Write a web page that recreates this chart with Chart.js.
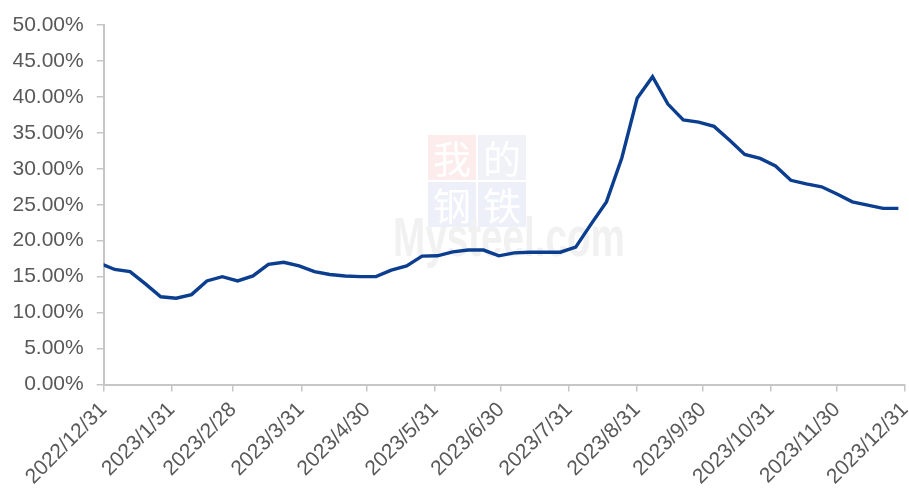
<!DOCTYPE html>
<html>
<head>
<meta charset="utf-8">
<script src="https://cdn.jsdelivr.net/npm/chart.js@4.4.1/dist/chart.umd.min.js"></script>
<style>
  html, body { margin: 0; padding: 0; background: #ffffff; }
  #wrap { width: 909px; height: 498px; position: relative; }
</style>
</head>
<body>
<div id="wrap"><canvas id="c" width="909" height="498"></canvas></div>
<script>
// ---- data ----
const weekDates = [
  '2022-12-29','2023-01-05','2023-01-12','2023-01-19','2023-01-26',
  '2023-02-02','2023-02-09','2023-02-16','2023-02-23',
  '2023-03-02','2023-03-09','2023-03-16','2023-03-23','2023-03-30',
  '2023-04-06','2023-04-13','2023-04-20','2023-04-27',
  '2023-05-04','2023-05-11','2023-05-18','2023-05-25',
  '2023-06-01','2023-06-08','2023-06-15','2023-06-22','2023-06-29',
  '2023-07-06','2023-07-13','2023-07-20','2023-07-27',
  '2023-08-03','2023-08-10','2023-08-17','2023-08-24','2023-08-31',
  '2023-09-07','2023-09-14','2023-09-21','2023-09-28',
  '2023-10-05','2023-10-12','2023-10-19','2023-10-26',
  '2023-11-02','2023-11-09','2023-11-16','2023-11-23','2023-11-30',
  '2023-12-07','2023-12-14','2023-12-21','2023-12-28'
];
const seriesValues = [
  16.9, 16.0, 15.7, 14.0, 12.2, 12.0, 12.5, 14.4, 15.0, 14.4,
  15.1, 16.7, 17.0, 16.5, 15.7, 15.3, 15.1, 15.0, 15.0, 15.9,
  16.5, 17.85, 17.9, 18.45, 18.7, 18.7, 17.9, 18.3, 18.4, 18.4,
  18.4, 19.1, 22.3, 25.4, 31.5, 39.8, 42.8, 39.0, 36.8, 36.5,
  35.9, 34.0, 32.0, 31.45, 30.4, 28.4, 27.9, 27.5, 26.5, 25.4,
  24.95, 24.5, 24.5
];
const xTickDates = [
  '2022-12-31','2023-01-31','2023-02-28','2023-03-31','2023-04-30','2023-05-31',
  '2023-06-30','2023-07-31','2023-08-31','2023-09-30','2023-10-31','2023-11-30','2023-12-31'
];
const xTickLabels = [
  '2022/12/31','2023/1/31','2023/2/28','2023/3/31','2023/4/30','2023/5/31',
  '2023/6/30','2023/7/31','2023/8/31','2023/9/30','2023/10/31','2023/11/30','2023/12/31'
];
const yMin = 0, yMax = 50, yStep = 5;

// ---- helpers ----
const DAY = 86400000;
function dayNum(s) {
  const p = s.split('-').map(Number);
  return Date.UTC(p[0], p[1] - 1, p[2]) / DAY;
}
const origin = dayNum(xTickDates[0]);
const tickDays = xTickDates.map(d => dayNum(d) - origin);
const points = weekDates.map((d, i) => ({ x: dayNum(d) - origin, y: seriesValues[i] }));

const AXIS_COLOR = '#c6c6c6';
const TEXT_COLOR = '#595959';
const FONT = '"Liberation Sans", Arial, sans-serif';

const watermark = {
  id: 'watermark',
  beforeDatasetsDraw(chart) {
    const ctx = chart.ctx;
    ctx.save();
    const bx = 428, by = 135, w = 48, h = 45, g = 2;
    const boxes = [
      { t: '我', x: bx, y: by, bg: '#fcecec' },
      { t: '的', x: bx + w + g, y: by, bg: '#f0f2f8' },
      { t: '钢', x: bx, y: by + h + g, bg: '#edf0f8' },
      { t: '铁', x: bx + w + g, y: by + h + g, bg: '#edf0f8' }
    ];
    ctx.textAlign = 'center';
    ctx.textBaseline = 'middle';
    ctx.font = '38px "Noto Sans CJK SC", sans-serif';
    boxes.forEach(b => {
      ctx.fillStyle = b.bg;
      ctx.fillRect(b.x, b.y, w, h);
      ctx.fillStyle = '#ffffff';
      ctx.fillText(b.t, b.x + w / 2, b.y + h / 2 + 1);
    });
    ctx.translate(393, 256);
    ctx.scale(0.69, 1);
    ctx.font = 'bold 56px "Liberation Sans", Arial, sans-serif';
    ctx.textAlign = 'left';
    ctx.textBaseline = 'alphabetic';
    ctx.fillStyle = '#f1f1f1';
    ctx.fillText('Mysteel.com', 0, 0);
    ctx.restore();
  }
};

new Chart(document.getElementById('c'), {
  type: 'line',
  data: {
    datasets: [{
      data: points,
      borderColor: '#0b3e8f',
      borderWidth: 3.4,
      pointRadius: 0,
      pointHoverRadius: 0,
      tension: 0,
      fill: false
    }]
  },
  options: {
    responsive: false,
    animation: false,
    events: [],
    layout: { padding: { left: 0, right: 4, top: 25, bottom: 0 } },
    plugins: { legend: { display: false }, tooltip: { enabled: false }, title: { display: false } },
    scales: {
      x: {
        type: 'linear',
        min: tickDays[0],
        max: tickDays[tickDays.length - 1],
        afterBuildTicks(scale) { scale.ticks = tickDays.map(v => ({ value: v })); },
        afterFit(scale) {
          scale.height = 498 - 384.5;
          scale.paddingLeft = 0;
          scale.paddingRight = 0;
        },
        ticks: {
          autoSkip: false,
          maxRotation: 45,
          minRotation: 45,
          padding: 6,
          color: TEXT_COLOR,
          font: { family: FONT, size: 21 },
          callback(value) {
            const i = tickDays.indexOf(value);
            return i >= 0 ? xTickLabels[i] : '';
          }
        },
        grid: { drawOnChartArea: false, drawTicks: true, tickLength: 7, color: AXIS_COLOR, lineWidth: 1.5 },
        border: { display: true, color: AXIS_COLOR, width: 2 }
      },
      y: {
        min: yMin,
        max: yMax,
        afterFit(scale) { scale.width = 103.7; scale.paddingTop = 0; scale.paddingBottom = 0; },
        ticks: {
          stepSize: yStep,
          padding: 13,
          color: TEXT_COLOR,
          font: { family: FONT, size: 21 },
          callback(v) { return v.toFixed(2) + '%'; }
        },
        grid: { drawOnChartArea: false, drawTicks: true, tickLength: 7, color: AXIS_COLOR, lineWidth: 1.5 },
        border: { display: true, color: AXIS_COLOR, width: 2 }
      }
    }
  },
  plugins: [watermark]
});
</script>
</body>
</html>
